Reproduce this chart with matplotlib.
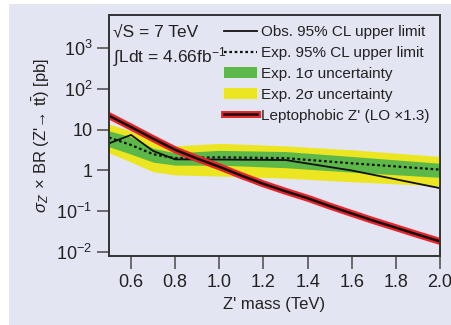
import numpy as np
import matplotlib
matplotlib.use("Agg")
import matplotlib.pyplot as plt
from matplotlib.patches import Patch, Rectangle
from matplotlib.lines import Line2D
import matplotlib.patheffects as pe

plt.rcParams['font.family'] = ['Liberation Sans', 'DejaVu Sans']
plt.rcParams['mathtext.fontset'] = 'custom'
plt.rcParams['mathtext.rm'] = 'Liberation Sans'
plt.rcParams['mathtext.it'] = 'Liberation Sans:italic'
plt.rcParams['mathtext.sf'] = 'Liberation Sans'

# data (pb)
mass_lim = [0.5, 0.6, 0.7, 0.8, 1.0, 1.3, 1.6, 2.0]
obs = [4.6, 7.4, 3.0, 1.87, 1.85, 1.8, 1.0, 0.37]
exp = [6.4, 4.2, 2.5, 2.0, 2.1, 2.0, 1.5, 1.05]
s1_lo = [3.8, 2.5, 1.6, 1.35, 1.35, 1.17, 0.91, 0.68]
s1_hi = [9.3, 6.6, 3.5, 2.7, 3.1, 2.9, 2.2, 1.5]
s2_lo = [2.7, 1.6, 0.93, 0.78, 0.73, 0.65, 0.53, 0.42]
s2_hi = [13.6, 9.2, 5.2, 4.0, 4.6, 4.0, 3.2, 2.2]

mass_th = [0.5, 0.6, 0.7, 0.8, 0.9, 1.0, 1.1, 1.2, 1.3, 1.4, 1.5, 1.6, 1.7, 1.8, 1.9, 2.0]
theory = [21.8, 11.5, 6.0, 3.2, 1.95, 1.23, 0.75, 0.47, 0.31, 0.21, 0.135, 0.089, 0.059, 0.040, 0.027, 0.0185]

yticks = [1e3, 1e2, 10, 1, 0.1, 0.01]
ytick_labels = ['$10^3$', '$10^2$', '10', '1', '$10^{-1}$', '$10^{-2}$']
xticks = [0.6, 0.8, 1.0, 1.2, 1.4, 1.6, 1.8, 2.0]

bg = '#e4e5f3'
green = '#5cb848'
yellow = '#ece622'
red = '#e8252a'
ink = '#222222'

fig = plt.figure(figsize=(4.51, 3.25), dpi=100, facecolor='white')
fig.patches.append(Rectangle((9/451, 0), 1, 1 - 4/325, transform=fig.transFigure,
                             facecolor=bg, edgecolor='none', zorder=-10))
ax = fig.add_axes([109/451, 1 - 256/325, 331/451, 241/325])
ax.set_facecolor(bg)

ax.fill_between(mass_lim, s2_lo, s2_hi, color=yellow, lw=0)
ax.fill_between(mass_lim, s1_lo, s1_hi, color=green, lw=0)
ax.plot(mass_lim, exp, color='#111111', lw=1.6, ls=(0, (1.2, 1.2)))
ax.plot(mass_lim, obs, color='#111111', lw=1.3)
ax.plot(mass_th, theory, color='#111111', lw=1.8,
        path_effects=[pe.Stroke(linewidth=5.0, foreground=red), pe.Normal()])

ax.set_yscale('log')
ax.set_xlim(0.5, 2.0)
ax.set_ylim(10**-2.09, 10**3.8)
ax.set_yticks(yticks)
ax.set_yticklabels(ytick_labels)
ax.yaxis.set_minor_locator(matplotlib.ticker.NullLocator())
ax.set_xticks(xticks)
ax.set_xticklabels(['%.1f' % v for v in xticks])
ax.tick_params(axis='both', direction='out', length=9, width=1.2, color='#555555',
               labelsize=13, labelcolor=ink, pad=3)
ax.tick_params(axis='x', pad=4)
for s in ax.spines.values():
    s.set_linewidth(1.4)
    s.set_color('#333333')

ax.set_xlabel("Z' mass (TeV)", fontsize=12, color=ink, labelpad=4)
ax.set_ylabel(r"$\sigma_{Z'}$ × BR (Z'→ t$\bar{\mathrm{t}}$) [pb]",
              fontsize=12, color=ink, labelpad=3)

ax.text(0.012, 0.96, "√S = 7 TeV", transform=ax.transAxes,
        fontsize=12.5, va='top', ha='left', color=ink)
ax.text(0.012, 0.875, "∫Ldt = 4.66fb$^{-1}$", transform=ax.transAxes,
        fontsize=12.5, va='top', ha='left', color=ink)

handles = [
    Line2D([], [], color='#111111', lw=1.3),
    Line2D([], [], color='#111111', lw=1.6, ls=(0, (1.2, 1.2))),
    Patch(facecolor=green, edgecolor='none'),
    Patch(facecolor=yellow, edgecolor='none'),
    Line2D([], [], color='#111111', lw=1.8,
           path_effects=[pe.Stroke(linewidth=5.0, foreground=red), pe.Normal()]),
]
labels = ['Obs. 95% CL upper limit', 'Exp. 95% CL upper limit',
          'Exp. 1σ uncertainty', 'Exp. 2σ uncertainty',
          "Leptophobic Z' (LO ×1.3)"]
leg = ax.legend(handles, labels, loc='upper right', frameon=False, fontsize=11,
                handlelength=2.2, handleheight=0.75, handletextpad=0.25,
                labelspacing=0.45, borderaxespad=0.48, borderpad=0.2)
for t in leg.get_texts():
    t.set_color(ink)

fig.savefig('out.png', dpi=100, facecolor=fig.get_facecolor())
